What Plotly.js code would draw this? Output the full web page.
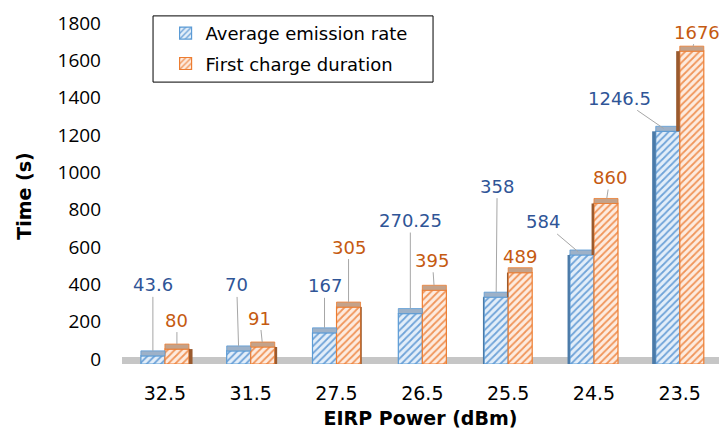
<!DOCTYPE html>
<html>
<head>
<meta charset="utf-8">
<script src="https://cdn.plot.ly/plotly-3.0.1.min.js"></script>
<style>html,body{margin:0;padding:0;background:#fff;}#chart{width:719px;height:438px;}</style>
</head>
<body>
<div id="chart"></div>
<script>
// ---- data ----
const categories = ['32.5', '31.5', '27.5', '26.5', '25.5', '24.5', '23.5'];
const avgEmission = [43.6, 70, 167, 270.25, 358, 584, 1246.5];
const firstCharge = [80, 91, 305, 395, 489, 860, 1676];
const avgLabels = ['43.6', '70', '167', '270.25', '358', '584', '1246.5'];
const chargeLabels = ['80', '91', '305', '395', '489', '860', '1676'];
const seriesNames = ['Average emission rate', 'First charge duration'];

// ---- styling / label placement (pixel offsets, not data) ----
const BW = 0.28;
const avgOffsets = [[0, -71], [-2, -66], [0, -47], [0, -93], [1, -111], [-39, -33], [-48, -33]];
const chargeOffsets = [[0, -29], [-3, -29], [0, -60], [-2, -30], [0, -16], [4, -26], [5, -19]];

const blue = {line: '#5B9BD5', fg: '#6FA3D8', bg: '#E3EEF9', top: '#9DB1C8', side: '#4A7AA8', text: '#2F5597'};
const orange = {line: '#ED7D31', fg: '#F0955A', bg: '#FDEBDF', top: '#C4A28A', side: '#9A5A2E', text: '#C55A11'};

function barTrace(vals, name, c, offset, grp) {
  return {
    type: 'bar', x: categories, y: vals, name: name, offset: offset, width: BW,
    legendgroup: grp,
    marker: {color: c.bg, line: {color: c.line, width: 1.2},
             pattern: {shape: '/', fgcolor: c.fg, bgcolor: c.bg, size: 5, solidity: 0.35, fillmode: 'replace'}},
    hoverinfo: 'skip'
  };
}

const traces = [
  barTrace(avgEmission, seriesNames[0], blue, -BW, 'a'),
  barTrace(firstCharge, seriesNames[1], orange, 0, 'b')
];

const shapes = [];
// floor
shapes.push({type: 'rect', layer: 'below', xref: 'paper', x0: 0, x1: 1, yref: 'y', ysizemode: 'pixel', yanchor: 0, y0: -1, y1: 7,
  fillcolor: '#C6C6C6', line: {width: 0}});
// legend box
shapes.push({type: 'rect', xref: 'paper', yref: 'paper', x0: 0.052, x1: 0.521, y0: 0.839, y1: 1.036,
  fillcolor: 'rgba(0,0,0,0)', line: {color: '#000', width: 1}});

function faces(vals, c, left, isBlue, other) {
  vals.forEach((v, i) => {
    const x0 = i + left, x1 = i + left + BW;
    // top face
    shapes.push({type: 'rect', xref: 'x', yref: 'y', x0: x0, x1: x1, ysizemode: 'pixel', yanchor: v, y0: 0, y1: 5,
      fillcolor: c.top, line: {color: c.line, width: 0.8}});
    // perspective side strip
    const w = (i - 3) * 1.2;
    if (w > 0.5) {
      const base = isBlue ? 0 : Math.min(v, other[i]);
      if (v > base) shapes.push({type: 'rect', xref: 'x', yref: 'y', xsizemode: 'pixel', xanchor: x0, x0: -w, x1: 0,
        y0: base, y1: v, fillcolor: c.side, line: {width: 0}});
    } else if (w < -0.5 && !isBlue) {
      shapes.push({type: 'rect', xref: 'x', yref: 'y', xsizemode: 'pixel', xanchor: x1, x0: 0, x1: -w,
        y0: 0, y1: v, fillcolor: c.side, line: {width: 0}});
    }
  });
}
faces(avgEmission, blue, -BW, true, firstCharge);
faces(firstCharge, orange, 0, false, avgEmission);

const annotations = [];
function labels(vals, txt, offs, c, center) {
  vals.forEach((v, i) => {
    annotations.push({x: i + center, y: v, xref: 'x', yref: 'y', text: txt[i], showarrow: true,
      arrowhead: 0, arrowwidth: 1, arrowcolor: '#A6A6A6', standoff: 5, ax: offs[i][0], ay: offs[i][1],
      font: {family: 'DejaVu Sans', size: 18, color: c.text}});
  });
}
labels(avgEmission, avgLabels, avgOffsets, blue, -BW / 2);
labels(firstCharge, chargeLabels, chargeOffsets, orange, BW / 2);

const layout = {
  width: 719, height: 438,
  margin: {l: 122, r: 0, t: 28, b: 74},
  paper_bgcolor: '#fff', plot_bgcolor: 'rgba(0,0,0,0)',
  barmode: 'group',
  showlegend: true,
  legend: {x: 0.073, y: 1.039, xanchor: 'left', yanchor: 'top', bgcolor: 'rgba(0,0,0,0)', borderwidth: 0,
    font: {family: 'DejaVu Sans', size: 18, color: '#000'}, tracegroupgap: 4, traceorder: 'grouped'},
  xaxis: {type: 'category', range: [-0.5, 6.457], showgrid: false, showline: false, zeroline: false, ticks: '',
    ticklabelstandoff: 16, automargin: false,
    tickfont: {family: 'DejaVu Sans', size: 19, color: '#000'},
    title: {text: 'EIRP Power (dBm)', font: {family: 'DejaVu Sans', size: 19, color: '#000', weight: 'bold'}, standoff: 8}},
  yaxis: {range: [0, 1800], dtick: 200, showgrid: false, showline: false, zeroline: false, ticks: '',
    ticklabelstandoff: 20, ticklabelshift: -5, automargin: false,
    tickfont: {family: 'Open Sans', size: 19, color: '#000'},
    title: {text: 'Time (s)', font: {family: 'DejaVu Sans', size: 19, color: '#000', weight: 'bold'}, standoff: 20}},
  shapes: shapes,
  annotations: annotations
};

Plotly.newPlot('chart', traces, layout, {displayModeBar: false, staticPlot: true});
</script>
</body>
</html>
